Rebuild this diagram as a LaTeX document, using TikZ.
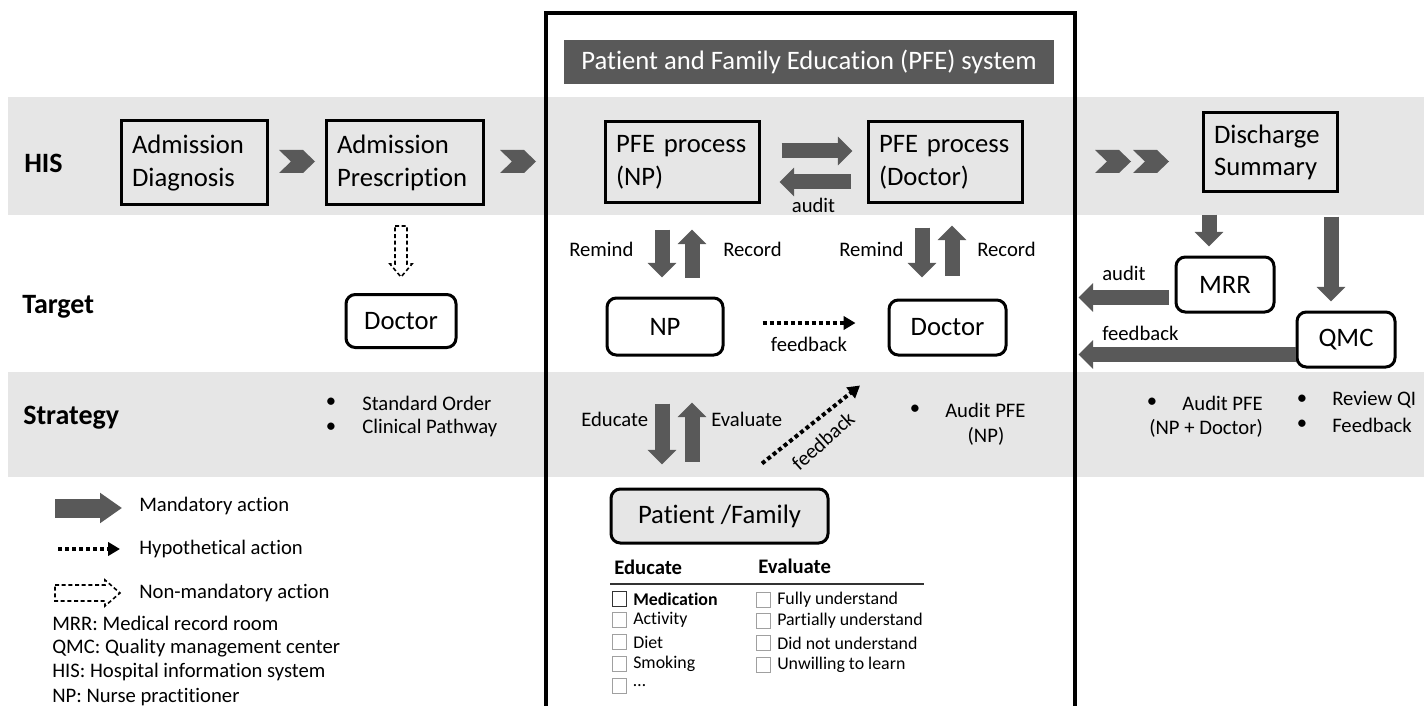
\documentclass[tikz,border=0pt]{standalone}
\usepackage{fontspec}
\setmainfont{Carlito}[Ligatures=NoCommon]
\usetikzlibrary{arrows.meta,calc}
\definecolor{bandgray}{HTML}{E6E6E6}
\definecolor{arrgray}{HTML}{595959}
\definecolor{chkgray}{HTML}{A0A0A0}
\newcommand\fsbig{\fontsize{20}{24.5}\selectfont}
\newcommand\fsmid{\fontsize{15.5}{19}\selectfont}
\newcommand\fslab{\fontsize{21}{25}\selectfont\bfseries}
\newcommand\fssm{\fontsize{13.4}{16}\selectfont}
\begin{document}
\begin{tikzpicture}[x=0.75pt,y=-0.75pt,
  sqbox/.style={draw, line width=2.25pt, align=left, font=\fsbig, inner xsep=8.25pt, inner ysep=0pt},
  rbox/.style={draw, line width=2.25pt, rounded corners=7pt, font=\fsbig, inner sep=0pt, fill=white},
  mand/.style={draw=arrgray, line width=11.25pt, -{Triangle[width=21pt,length=11pt]}},
  hypo/.style={line width=3pt, dash pattern=on 3pt off 2.25pt, -{Triangle[width=10pt,length=9pt]}},
  lbl/.style={font=\fsmid, inner sep=0pt},
  rowlab/.style={font=\fslab, inner sep=0pt, anchor=west},
  chk/.style={draw=chkgray, line width=0.8pt, minimum size=11pt, inner sep=0pt},
  chktxt/.style={font=\fssm, inner sep=0pt, anchor=west},
  hollow/.style={draw=black, line width=1.2pt, dash pattern=on 3pt off 2pt, fill=white},
  chev/.pic={\fill[arrgray] (0,-11.5) -- (24,-11.5) -- (36,0) -- (24,11.5) -- (0,11.5) -- (12,0) -- cycle;}
]
\useasboundingbox (0,0) rectangle (1424,706);
% bands
\fill[bandgray] (8,97) rectangle (1424,215);
\fill[bandgray] (8,372) rectangle (1424,477);
% PFE frame
\draw[line width=3pt] (546,720) -- (546,13) -- (1075,13) -- (1075,720);
\node[fill=arrgray, text=white, font=\fsbig, minimum width=367.5pt, minimum height=33pt, inner sep=0pt] (title) at (809,62) {Patient and Family Education (PFE) system};

% row labels
\node[rowlab] (lhis) at (24,163) {HIS};
\node[rowlab] (ltarget) at (22,307) {Target};
\node[rowlab] (lstrat) at (23,418) {Strategy};

% HIS row boxes
\node[sqbox, text width=93pt, minimum height=63pt] (admd) at (194,163) {Admission\\Diagnosis};
\node[sqbox, text width=101.25pt, minimum height=63pt] (admp) at (404.5,163) {Admission\\Prescription};
\node[sqbox, text width=99pt, minimum height=60.75pt] (pfenp) at (682,162.5) {PFE process\\(NP)};
\node[sqbox, text width=99pt, minimum height=60.75pt] (pfedoc) at (945,162.5) {PFE process\\(Doctor)};
\node[sqbox, text width=84pt, minimum height=59.25pt] (dis) at (1270,152.5) {Discharge\\Summary};
\pic at (279,161.5) {chev};
\pic at (500,161.5) {chev};
\pic at (1095,161.5) {chev};
\pic at (1133,161.5) {chev};

% target row boxes
\node[rbox, minimum width=82.5pt, minimum height=39.75pt] (docl) at (401,321) {Doctor};
\node[rbox, minimum width=87pt, minimum height=42.75pt] (np) at (665,326.5) {NP};
\node[rbox, minimum width=87.75pt, minimum height=41.25pt] (docm) at (947.5,327.5) {Doctor};
\node[rbox, minimum width=73.5pt, minimum height=41.25pt] (mrr) at (1225,284.5) {MRR};
\node[rbox, minimum width=73.5pt, minimum height=41.25pt] (qmc) at (1346,339.5) {QMC};
\node[rbox, fill=bandgray, minimum width=162.75pt, minimum height=40.5pt] (pat) at (719.5,516) {Patient /Family};

% mandatory arrows
\draw[mand] ($(pfenp.east)+(21,-11.5)$) -- ($(pfedoc.west)+(-14,-11.5)$);
\draw[mand] ($(pfedoc.west)+(-16,19.5)$) -- ($(pfenp.east)+(19,19.5)$);
\node[lbl] (audA) at ($(pfenp.east)!0.5!(pfedoc.west)+(0,43)$) {audit};
\draw[mand] ($(np.north)+(-3,-67)$) -- ($(np.north)+(-3,-19)$);
\draw[mand] ($(np.north)+(27,-19)$) -- ($(np.north)+(27,-67)$);
\draw[mand] ($(docm.north)+(-25.5,-71)$) -- ($(docm.north)+(-25.5,-21)$);
\draw[mand] ($(docm.north)+(4.5,-23)$) -- ($(docm.north)+(4.5,-73)$);
\draw[mand] ($(np.south)+(-3,47)$) -- ($(np.south)+(-3,108)$);
\draw[mand] ($(np.south)+(27,105)$) -- ($(np.south)+(27,46)$);
\draw[mand] ($(dis.south)+(-61,21)$) -- ($(mrr.north)+(-16,-9)$);
\draw[mand] ($(dis.south)+(61,23)$) -- ($(qmc.north)+(-15,-9)$);
\draw[mand] ($(mrr.west)+(-6,13)$) -- ($(mrr.west)+(-96,13)$);
\draw[mand] ($(qmc.west)+(0,15)$) -- ($(qmc.west)+(-217,15)$);

% labels for arrows
\node[lbl, anchor=west] (remA) at (569,249) {Remind};
\node[lbl, anchor=west] (recA) at (723,249) {Record};
\node[lbl, anchor=west] (remB) at (839,249) {Remind};
\node[lbl, anchor=west] (recB) at (977,249) {Record};
\node[lbl, anchor=west] (edu) at (581,419) {Educate};
\node[lbl, anchor=west] (eva) at (711,419) {Evaluate};
\node[lbl, anchor=west] (audB) at (1102,273) {audit};
\node[lbl, anchor=west] (fbB) at (1102,333) {feedback};

% hypothetical arrows
\draw[hypo] ($(np.east)+(38,-3.5)$) -- ($(docm.west)+(-32,-4.5)$);
\node[lbl] (fbA) at (809,344) {feedback};
\draw[hypo] ($(pat.north)+(42.5,-24)$) -- ($(docm.south)+(-87.5,29)$);
\node[lbl, rotate=42] (fbC) at (823,441) {feedback};

% non-mandatory arrow
\draw[hollow] ($(docl.north)+(-6,-67)$) -- ++(12,0) -- ++(0,38) -- ++(5,0) -- ++(-11,13) -- ++(-11,-13) -- ++(5,0) -- cycle;

% strategy texts
\node[lbl] (b1) at (331,403) {\textbullet};
\node[lbl, anchor=west] (s1) at (362,403) {Standard Order};
\node[lbl] (b2) at (331,428) {\textbullet};
\node[lbl, anchor=west] (s2) at (362,428) {Clinical Pathway};
\node[lbl] (b3) at (915,410) {\textbullet};
\node[lbl, anchor=west] (s3) at (945,410) {Audit PFE};
\node[lbl] (s3b) at (986,436) {(NP)};
\node[lbl] (b4) at (1152,403) {\textbullet};
\node[lbl, anchor=east] (s4) at (1263,403) {Audit PFE};
\node[lbl, anchor=east] (s4b) at (1263,428) {(NP + Doctor)};
\node[lbl] (b5) at (1302,400) {\textbullet};
\node[lbl, anchor=west] (s5) at (1332,400) {Review QI};
\node[lbl] (b6) at (1302,425) {\textbullet};
\node[lbl, anchor=west] (s6) at (1332,425) {Feedback};

% checklist
\node[lbl, font=\fsmid\bfseries, anchor=west] (hedu) at (614,567) {Educate};
\node[lbl, font=\fsmid\bfseries, anchor=west] (heva) at (758,566) {Evaluate};
\draw[line width=1.5pt, black!80] (610,584) -- (924,584);
\node[chk, draw=black!80] (c1) at (619.5,599) {};
\node[chktxt, font=\fssm\bfseries] at (633,599) {Medication};
\node[chk] (c2) at (619.5,620) {};
\node[chktxt] at (633,620) {Activity};
\node[chk] (c3) at (619.5,642) {};
\node[chktxt] at (633,642) {Diet};
\node[chk] (c4) at (619.5,664) {};
\node[chktxt] at (633,664) {Smoking};
\node[chk] (c5) at (619.5,686) {};
\node[chktxt] at (633,686) {\dots};
\node[chk] (d1) at (763.5,600) {};
\node[chktxt] at (777,600) {Fully understand};
\node[chk] (d2) at (763.5,621) {};
\node[chktxt] at (777,621) {Partially understand};
\node[chk] (d3) at (763.5,643) {};
\node[chktxt] at (777,643) {Did not understand};
\node[chk] (d4) at (763.5,665) {};
\node[chktxt] at (777,665) {Unwilling to learn};

% legend
\coordinate (lgA1) at (55,508);
\coordinate (lgA2) at (122,508);
\draw[draw=arrgray, line width=14.25pt, -{Triangle[width=21.75pt,length=16.5pt]}] (lgA1) -- (lgA2);
\node[lbl, anchor=west] (lg1) at (139,506) {Mandatory action};
\coordinate (lgB1) at (58,549);
\coordinate (lgB2) at (120,549);
\draw[hypo] (lgB1) -- (lgB2);
\node[lbl, anchor=west] (lg2) at (139,549) {Hypothetical action};
\draw[hollow] (55,585) -- (105,585) -- (105,580) -- (120,593) -- (105,606) -- (105,601) -- (55,601) -- cycle;
\node[lbl, anchor=west] (lg3) at (139,593) {Non-mandatory action};
\node[lbl, anchor=west] (lg4) at (52,623) {MRR: Medical record room};
\node[lbl, anchor=west] (lg5) at (52,648) {QMC: Quality management center};
\node[lbl, anchor=west] (lg6) at (52,672) {HIS: Hospital information system};
\node[lbl, anchor=west] (lg7) at (52,697) {NP: Nurse practitioner};
\end{tikzpicture}
\end{document}
